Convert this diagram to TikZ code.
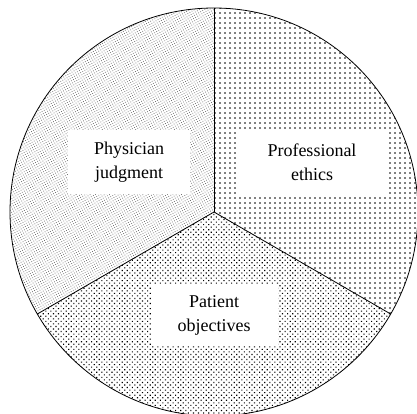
\documentclass[tikz,border=0pt]{standalone}
\usepackage{fontspec}
\setmainfont{Liberation Serif}
\usetikzlibrary{patterns.meta}

\tikzset{
  label box/.style={fill=white, align=center, font=\fontsize{18}{24}\selectfont, inner sep=0pt},
}

\begin{document}
\begin{tikzpicture}[x=1pt,y=1pt]
    \useasboundingbox (0,0) rectangle (417,413);
    \coordinate (c) at (214,201);

    % three equal slices
    \fill[pattern={Dots[distance=2.4pt,angle=30,radius=0.55pt]}, pattern color=black!55]
        (c) -- ++(90:204) arc (90:210:204) -- cycle;
    \fill[pattern={Dots[distance=5pt,radius=0.95pt]}]
        (c) -- ++(-30:204) arc (-30:90:204) -- cycle;
    \fill[pattern={Dots[distance=3.6pt,angle=45,radius=0.8pt]}]
        (c) -- ++(210:204) arc (210:330:204) -- cycle;

    \draw[thick] (c) circle [radius=204];
    \coordinate (up) at (214,405);
    \coordinate (left) at ([shift={(210:204)}]c);
    \coordinate (right) at ([shift={(-30:204)}]c);
    \draw (c) -- (up);
    \draw[thick] (left) -- (c) -- (right);

    \node[label box, minimum width=122, minimum height=63] (phys) at (129,251) {Physician\\judgment};
    \node[label box, minimum width=151, minimum height=63] (prof) at (312,251) {Professional\\ethics};
    \node[label box, minimum width=127, minimum height=60] (pat) at (214,98) {Patient\\objectives};
\end{tikzpicture}
\end{document}
